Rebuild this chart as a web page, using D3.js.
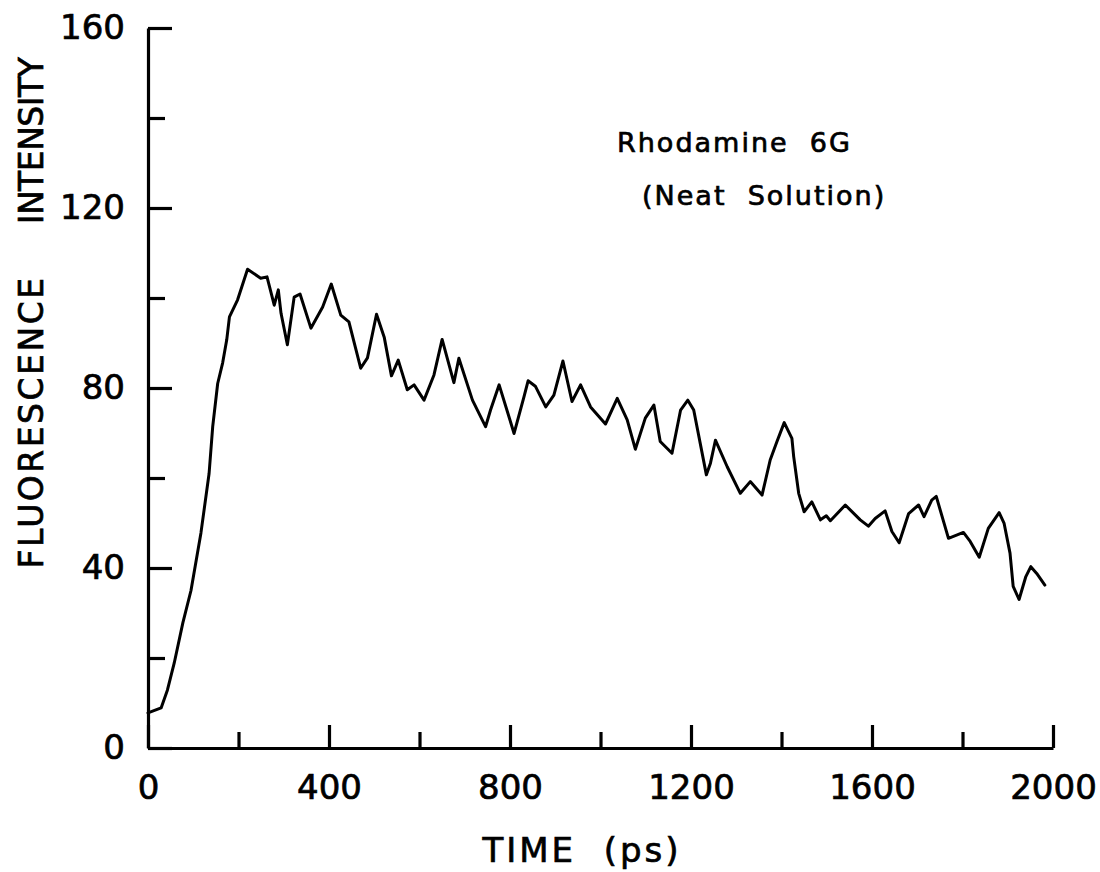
<!DOCTYPE html>
<html>
<head>
<meta charset="utf-8">
<script src="https://cdn.jsdelivr.net/npm/d3@7"></script>
<style>
  html, body { margin: 0; padding: 0; background: #fff; }
  svg { display: block; }
  text { font-family: "DejaVu Sans", "Liberation Sans", sans-serif; fill: #000; stroke: #000; stroke-width: 0.7px; }
</style>
</head>
<body>
<svg id="chart" width="1100" height="872"></svg>
<script>
// ---- data ----
const timePs = [0, 29, 43, 58, 77, 95, 117, 135, 143, 154, 165, 174, 180, 198, 220, 249, 263, 279, 288, 294,
  308, 323, 336, 360, 386, 405, 426, 444, 470, 485, 505, 522, 538, 553, 573, 588, 610, 632, 650, 676,
  687, 717, 746, 757, 776, 809, 831, 840, 856, 879, 897, 917, 937, 956, 978, 1011, 1037, 1059, 1077, 1099,
  1118, 1132, 1158, 1177, 1193, 1206, 1234, 1243, 1254, 1280, 1309, 1331, 1357, 1375, 1390, 1406, 1423, 1427, 1438, 1450,
  1467, 1486, 1499, 1508, 1541, 1574, 1592, 1607, 1629, 1644, 1660, 1681, 1703, 1715, 1732, 1742, 1769, 1802, 1817, 1837,
  1857, 1881, 1892, 1905, 1912, 1925, 1940, 1951, 1964, 1982];
const intensity = [7.8, 8.9, 12.9, 18.9, 27.8, 35, 47.8, 61, 71.4, 81, 85.6, 90.7, 95.8, 99.6, 106.4, 104.4, 104.7, 98.4, 101.8, 96.6,
  89.6, 100.2, 100.9, 93.3, 98, 103.1, 96.2, 94.7, 84.4, 86.7, 96.4, 91.3, 82.7, 86.2, 79.6, 80.7, 77.3, 82.9, 90.8, 81.2,
  86.6, 77.3, 71.4, 75.1, 80.7, 69.9, 78.1, 81.6, 80.4, 75.8, 78.4, 86, 77, 80.7, 75.8, 72, 77.7, 72.9, 66.4, 73.3,
  76.2, 68.1, 65.5, 75.1, 77.3, 75.1, 60.7, 63.3, 68.4, 62.5, 56.6, 59.2, 56.2, 64, 68.1, 72.3, 68.8, 64.7, 56.6, 52.5,
  54.7, 50.7, 51.6, 50.5, 54, 50.7, 49.3, 51, 52.7, 48.1, 45.6, 52.1, 54, 51.4, 55.1, 55.9, 46.6, 47.9, 45.9, 42.4,
  48.8, 52.3, 49.9, 43.3, 35.9, 33, 38.1, 40.3, 38.8, 36.2];

const xMajorTicks = [0, 400, 800, 1200, 1600, 2000];
const xMinorTicks = [200, 600, 1000, 1400, 1800];
const yMajorTicks = [0, 40, 80, 120, 160];
const yMinorTicks = [20, 60, 100, 140];

const xTitle = "TIME  (ps)";
const yTitleA = "FLUORESCENCE";
const yTitleB = "INTENSITY";
const annotation1 = "Rhodamine  6G";
const annotation2 = "(Neat  Solution)";

// ---- layout ----
const svg = d3.select("#chart");
const plotLeft = 148, plotRight = 1053, plotTop = 28, plotBottom = 748;

const x = d3.scaleLinear().domain([0, 2000]).range([plotLeft, plotRight]);
const y = d3.scaleLinear().domain([0, 160]).range([plotBottom, plotTop]);

const fontSize = 34;
const fontFam = "'DejaVu Sans', 'Liberation Sans', sans-serif";

// x axis (major with labels)
svg.append("g").attr("transform", `translate(0,${plotBottom})`)
  .call(d3.axisBottom(x).tickValues(xMajorTicks).tickSizeInner(-23).tickSizeOuter(0).tickPadding(27)
    .tickFormat(d3.format("d")));
// x minor ticks
svg.append("g").attr("transform", `translate(0,${plotBottom})`)
  .call(d3.axisBottom(x).tickValues(xMinorTicks).tickSizeInner(-16).tickSizeOuter(0).tickFormat(""))
  .select(".domain").remove();

// y axis
svg.append("g").attr("transform", `translate(${plotLeft},0)`)
  .call(d3.axisLeft(y).tickValues(yMajorTicks).tickSizeInner(-24).tickSizeOuter(0).tickPadding(23)
    .tickFormat(d3.format("d")));
svg.append("g").attr("transform", `translate(${plotLeft},0)`)
  .call(d3.axisLeft(y).tickValues(yMinorTicks).tickSizeInner(-17).tickSizeOuter(0).tickFormat(""))
  .select(".domain").remove();

svg.selectAll(".domain").attr("stroke", "#000").attr("stroke-width", 3.2);
svg.selectAll(".tick line").attr("stroke", "#000").attr("stroke-width", 3.2);
svg.selectAll(".tick text")
  .attr("font-size", fontSize)
  .attr("font-family", fontFam)
  .attr("fill", "#000");

// curve
const line = d3.line()
  .x((d, i) => x(timePs[i]))
  .y(d => y(d));
svg.append("path")
  .datum(intensity)
  .attr("d", line)
  .attr("fill", "none")
  .attr("stroke", "#000")
  .attr("stroke-width", 3)
  .attr("stroke-linejoin", "round")
  .attr("stroke-linecap", "round");

// titles
svg.append("text")
  .attr("x", 582)
  .attr("y", 862)
  .attr("text-anchor", "middle")
  .attr("font-size", 34)
  .attr("letter-spacing", 3)
  .style("white-space", "pre")
  .text(xTitle);

svg.append("text")
  .attr("transform", "translate(43,422) rotate(-90)")
  .attr("text-anchor", "middle")
  .attr("font-size", 33)
  .attr("letter-spacing", 2.5)
  .text(yTitleA);
svg.append("text")
  .attr("transform", "translate(43,141) rotate(-90)")
  .attr("text-anchor", "middle")
  .attr("font-size", 33)
  .attr("letter-spacing", -0.5)
  .text(yTitleB);

svg.append("text")
  .attr("x", 617).attr("y", 152)
  .attr("font-size", 27)
  .attr("letter-spacing", 2)
  .style("white-space", "pre")
  .text(annotation1);
svg.append("text")
  .attr("x", 642).attr("y", 205)
  .attr("font-size", 27)
  .attr("letter-spacing", 2)
  .style("white-space", "pre")
  .text(annotation2);
</script>
</body>
</html>
